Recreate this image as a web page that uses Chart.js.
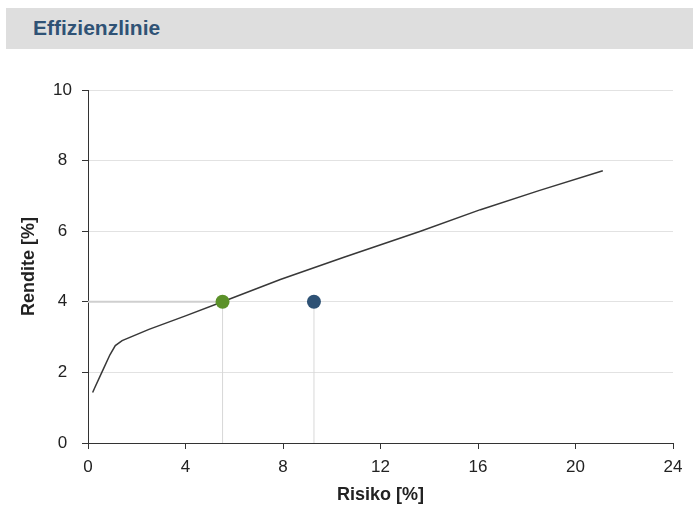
<!DOCTYPE html>
<html>
<head>
<meta charset="utf-8">
<script src="https://cdn.jsdelivr.net/npm/chart.js@4"></script>
<style>
  body { margin: 0; background: #fff; font-family: "Liberation Sans", Arial, sans-serif; }
  #kopf {
    position: absolute; top: 8px; left: 6px; right: 0; height: 41px;
    background: #dedede; z-index: 2;
  }
  #kopf span {
    position: absolute; left: 27px; top: 8px; line-height: 1;
    font: bold 21px "Liberation Sans", Arial, sans-serif; color: #2f5275;
  }
  #wrap { position: absolute; top: 0; left: 0; width: 693px; height: 507px; }
</style>
</head>
<body>
<div id="kopf"><span>Effizienzlinie</span></div>
<div id="wrap"><canvas id="chart" width="693" height="507"></canvas></div>
<script>
// Effizienzlinie (Risiko / Rendite in %)
const kurveRisiko  = [0.19, 0.3, 0.6, 0.9, 1.12, 1.4, 2.5, 4.0, 5.52, 7.89, 10.5, 13.64, 16.1, 18.5, 21.12];
const kurveRendite = [1.43, 1.6, 2.05, 2.5, 2.76, 2.9, 3.22, 3.6, 4.0, 4.63, 5.26, 6.0, 6.61, 7.15, 7.71];

// optimiertes Portfolio (grün) und aktuelles Portfolio (blau)
const optimalRisiko = 5.52, optimalRendite = 4.0;
const aktuellRisiko = 9.27, aktuellRendite = 4.0;

const xTicks = [0, 4, 8, 12, 16, 20, 24];
const yTicks = [0, 2, 4, 6, 8, 10];

const kurve = kurveRisiko.map((x, i) => ({ x: x, y: kurveRendite[i] }));

const hilfslinie = (punkte, farbe, breite) => ({
  data: punkte, showLine: true, borderColor: farbe, borderWidth: breite,
  pointRadius: 0, fill: false
});

const schrift = { family: 'Liberation Sans', size: 17 };
const titelSchrift = { family: 'Liberation Sans', size: 18, weight: 'bold' };

// erster Datensatz wird zuletzt (oben) gezeichnet
new Chart(document.getElementById('chart'), {
  type: 'scatter',
  data: {
    datasets: [
      {
        data: [{ x: optimalRisiko, y: optimalRendite }],
        pointRadius: 7, pointBackgroundColor: '#5b9129', pointBorderWidth: 0
      },
      {
        data: [{ x: aktuellRisiko, y: aktuellRendite }],
        pointRadius: 7, pointBackgroundColor: '#2e5275', pointBorderWidth: 0
      },
      {
        data: kurve, showLine: true, borderColor: '#383838', borderWidth: 1.5,
        pointRadius: 0, tension: 0
      },
      hilfslinie([{ x: 0, y: optimalRendite }, { x: optimalRisiko, y: optimalRendite }], '#cfcfcf', 2),
      hilfslinie([{ x: optimalRisiko, y: 0 }, { x: optimalRisiko, y: optimalRendite }], '#d8d8d8', 1),
      hilfslinie([{ x: aktuellRisiko, y: 0 }, { x: aktuellRisiko, y: aktuellRendite }], '#d8d8d8', 1)
    ]
  },
  options: {
    responsive: false,
    animation: false,
    layout: { padding: { top: 90, right: 20, left: 0, bottom: 0 } },
    plugins: { legend: { display: false }, tooltip: { enabled: false } },
    scales: {
      x: {
        type: 'linear', min: 0, max: 24,
        afterBuildTicks: s => { s.ticks = xTicks.map(v => ({ value: v })); },
        afterFit: s => { s.height = 64; },
        ticks: { color: '#222', font: schrift, padding: 8 },
        grid: { drawOnChartArea: false, drawTicks: true, tickLength: 6, tickColor: '#333' },
        border: { color: '#333', width: 1 },
        title: {
          display: true, text: 'Risiko [%]', color: '#222', font: titelSchrift,
          padding: { top: 0, bottom: 1 }
        }
      },
      y: {
        type: 'linear', min: 0, max: 10,
        afterBuildTicks: s => { s.ticks = yTicks.map(v => ({ value: v })); },
        afterFit: s => { s.width = 88; },
        ticks: { color: '#222', font: schrift, padding: 10, crossAlign: 'center' },
        grid: { color: '#e2e2e2', drawTicks: true, tickLength: 6, tickColor: '#333' },
        border: { color: '#333', width: 1 },
        title: {
          display: true, text: 'Rendite [%]', color: '#222', font: titelSchrift,
          padding: { top: 18, bottom: 0 }
        }
      }
    }
  }
});
</script>
</body>
</html>
